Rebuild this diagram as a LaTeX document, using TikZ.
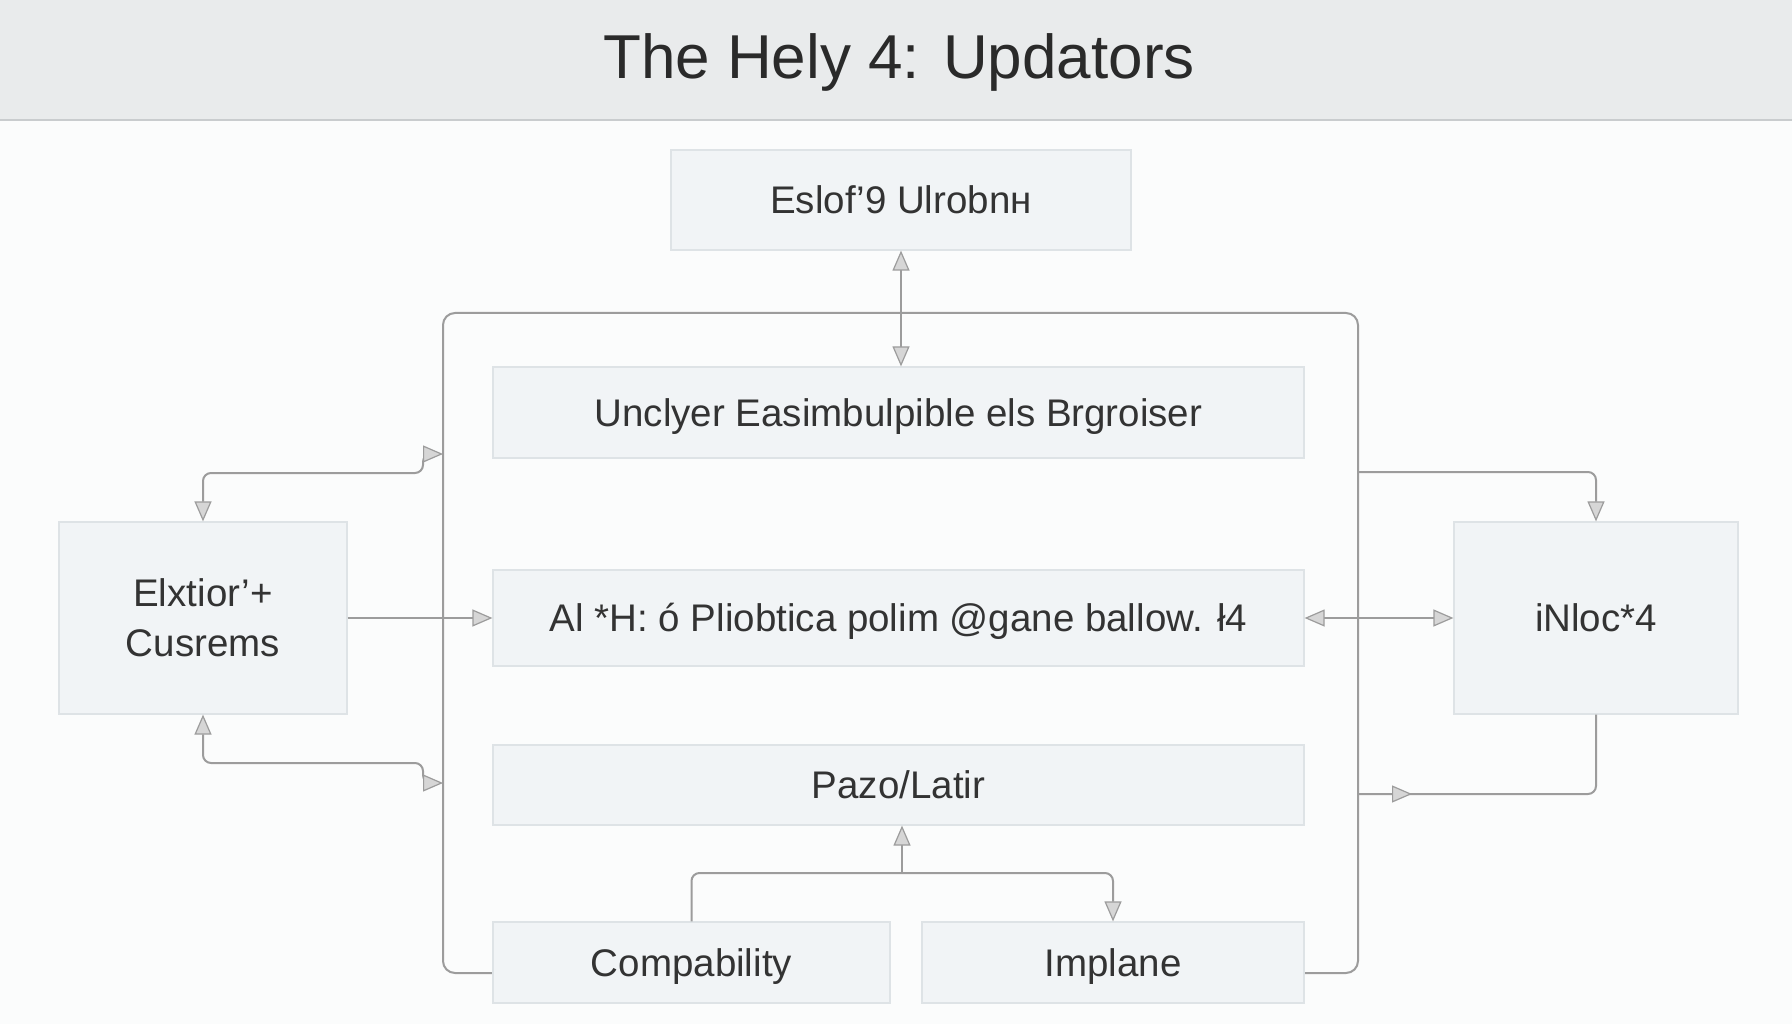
\documentclass[tikz,border=0pt]{standalone}
\usepackage{fontspec}
\setmainfont{Liberation Sans}
\usetikzlibrary{arrows.meta}
\definecolor{bgc}{HTML}{FBFCFC}
\definecolor{hdr}{HTML}{E9EBEC}
\definecolor{hdrline}{HTML}{C9CCCE}
\definecolor{boxfill}{HTML}{F1F4F6}
\definecolor{boxline}{HTML}{DEE3E6}
\definecolor{linecol}{HTML}{9C9C9C}
\definecolor{arrfill}{HTML}{D6D6D6}
\definecolor{txt}{HTML}{333333}
\definecolor{ttl}{HTML}{2A2A2A}
\newcommand\mybxfont{\fontsize{38.5}{50}\selectfont}
\newcommand\myttlfont{\fontsize{62}{72}\selectfont}
\begin{document}
\begin{tikzpicture}[x=1pt,y=-1pt,
  >={Triangle[length=20pt,width=17pt,fill=arrfill,line width=1.2pt]},
  bx/.style={draw=boxline, line width=1.2pt, fill=boxfill, inner sep=0pt, font=\mybxfont, text=txt, align=center},
  one/.style={text height=27.7pt, text depth=0pt},
  conn/.style={draw=linecol, line width=2pt, rounded corners=8pt}]
\useasboundingbox (0,0) rectangle (1792,1024);
\fill[bgc] (0,0) rectangle (1792,1024);
\fill[hdr] (0,0) rectangle (1792,120);
\draw[hdrline, line width=2pt] (0,120) -- (1792,120);
\node[font=\myttlfont, text=ttl, text height=44.6pt, text depth=0pt] (title) at (899,56) {The Hely 4: Updators};
% container (drawn first, boxes cover its bottom)
\draw[draw=linecol, line width=2pt, rounded corners=12pt] (500,973) -- (443,973) -- (443,313) -- (1358,313) -- (1358,973) -- (1300,973);
% nodes
\node[bx, one, minimum width=460pt, minimum height=100pt] (top) at (901,200) {Eslof’9 Ulrobnн};
\node[bx, one, minimum width=811pt, minimum height=91pt] (unc) at (898.5,412.5) {Unclyer Easimbulpible els Brgroiser};
\node[bx, one, minimum width=811pt, minimum height=96pt] (ai) at (898.5,618) {Al *H: ó Pliobtica polim @gane ballow. ł4};
\node[bx, one, minimum width=811pt, minimum height=80pt] (pazo) at (898.5,785) {Pazo/Latir};
\node[bx, one, minimum width=397pt, minimum height=81pt] (comp) at (691.5,962.5) {Compability};
\node[bx, one, minimum width=382pt, minimum height=81pt] (impl) at (1113,962.5) {Implane};
\node[bx, minimum width=288pt, minimum height=192pt] (elx) at (203,618) {Elxtior’+\\Cusrems};
\node[bx, one, minimum width=284pt, minimum height=192pt] (inl) at (1596,618) {iNloc*4};
% coordinates on the container edge
\coordinate (lt1) at (423,473);
\coordinate (lt2) at (443,454);
\coordinate (lb1) at (423,763);
\coordinate (lb2) at (443,783);
\coordinate (rt1) at (1358,472);
\coordinate (rb1) at (1358,794);
\coordinate (rb2) at (1412,794);
\coordinate (bj) at (902,873);
% connectors
\draw[conn,<->] (top.south) -- (top.south |- unc.north);
\draw[conn,<->] (elx.north) |- (lt1) |- (lt2);
\draw[conn,<->] (elx.south) |- (lb1) |- (lb2);
\draw[conn,->] (elx.east) -- (ai.west);
\draw[conn,<->] (ai.east) -- (inl.west);
\draw[conn,->] (rt1) -| (inl.north);
\draw[conn] (rb1) -| (inl.south);
\draw[conn,->] (rb1) -- (rb2);
\draw[conn,->] (comp.north) |- (bj) -| (impl.north);
\draw[conn,->] (bj) -- (bj |- pazo.south);
\end{tikzpicture}
\end{document}
